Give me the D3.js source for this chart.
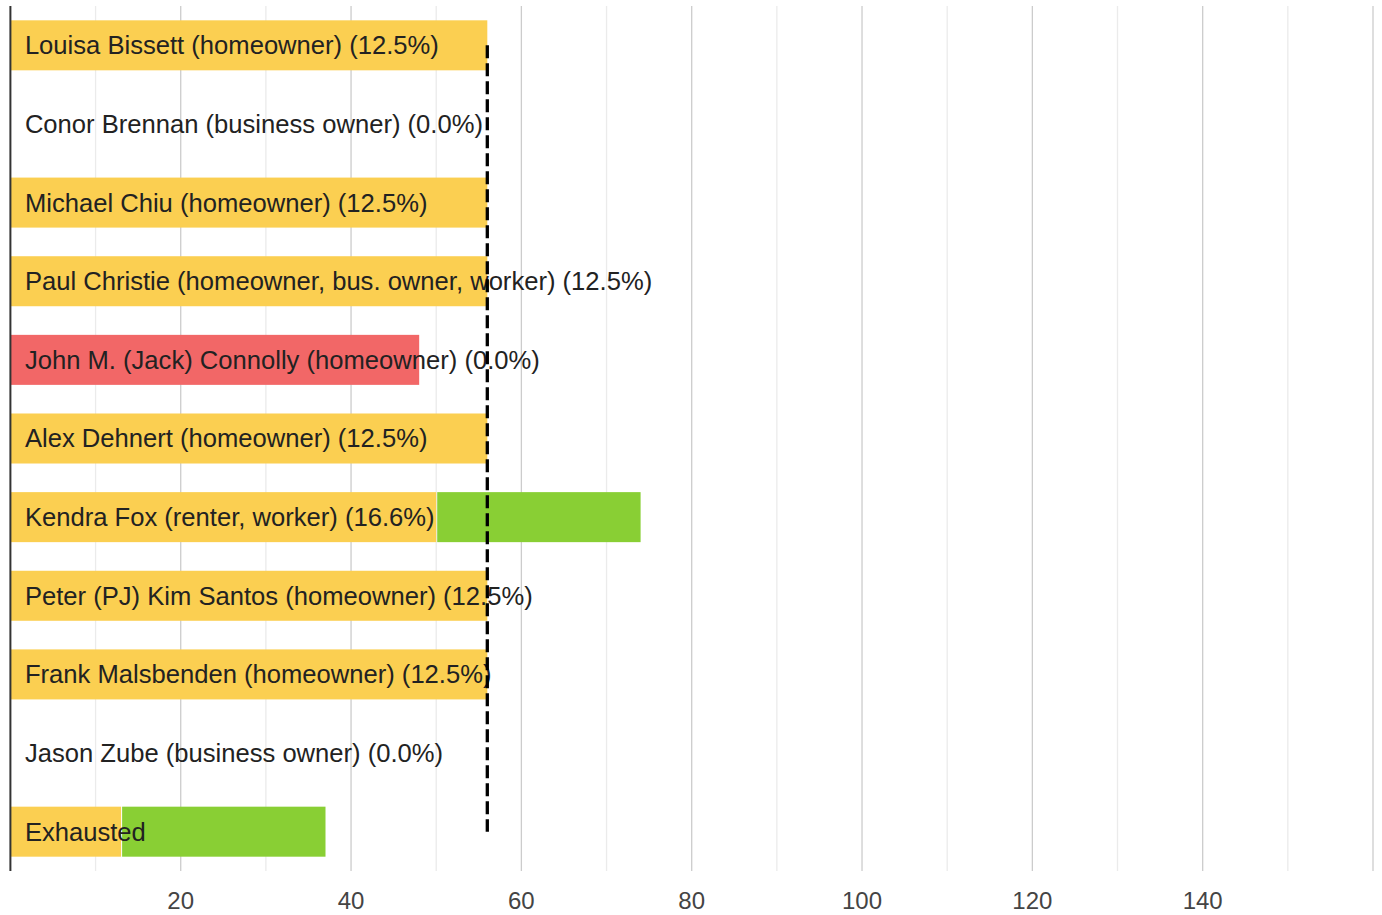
<!DOCTYPE html>
<html>
<head>
<meta charset="utf-8">
<script src="https://cdn.jsdelivr.net/npm/d3@7"></script>
<style>
  html, body { margin: 0; padding: 0; background: #fff; }
  svg { display: block; font-family: "Liberation Sans", Arial, sans-serif; }
</style>
</head>
<body>
<svg id="chart" width="1382" height="915"></svg>
<script>
const categories = [
  "Louisa Bissett (homeowner) (12.5%)",
  "Conor Brennan (business owner) (0.0%)",
  "Michael Chiu (homeowner) (12.5%)",
  "Paul Christie (homeowner, bus. owner, worker) (12.5%)",
  "John M. (Jack) Connolly (homeowner) (0.0%)",
  "Alex Dehnert (homeowner) (12.5%)",
  "Kendra Fox (renter, worker) (16.6%)",
  "Peter (PJ) Kim Santos (homeowner) (12.5%)",
  "Frank Malsbenden (homeowner) (12.5%)",
  "Jason Zube (business owner) (0.0%)",
  "Exhausted"
];
const firstVotes    = [56, 0, 56, 56, 48, 56, 50, 56, 56, 0, 13];
const transferVotes = [0, 0, 0, 0, 0, 0, 24, 0, 0, 0, 24];
const status        = ["elected","none","elected","elected","eliminated","elected","elected","elected","elected","none","elected"];
const threshold = 56;
const majorTicks = [20, 40, 60, 80, 100, 120, 140, 160];
const minorTicks = [10, 30, 50, 70, 90, 110, 130, 150];
const tickLabels = [20, 40, 60, 80, 100, 120, 140];

const colors = { elected: "#fbcf51", eliminated: "#f26767", transfer: "#89cf34", none: "none" };

const svg = d3.select("#chart");
const mLeft = 10.4, mRight = 1373, mTop = 6, mBottom = 871;

const x = d3.scaleLinear().domain([0, 160]).range([mLeft, mRight]);
const y = d3.scaleBand().domain(categories).range([mTop, mBottom]).paddingInner(0.364).paddingOuter(0.182);

// gridlines
svg.append("g").selectAll("line").data(minorTicks).join("line")
  .attr("x1", d => x(d)).attr("x2", d => x(d)).attr("y1", mTop).attr("y2", mBottom)
  .attr("stroke", "#ebebeb").attr("stroke-width", 1.3);
svg.append("g").selectAll("line").data(majorTicks).join("line")
  .attr("x1", d => x(d)).attr("x2", d => x(d)).attr("y1", mTop).attr("y2", mBottom)
  .attr("stroke", "#cccccc").attr("stroke-width", 1.3);

// bars
const rows = categories.map((c, i) => ({ c, a: firstVotes[i], b: transferVotes[i], s: status[i] }));
const g = svg.append("g");
g.selectAll("rect.first").data(rows.filter(d => d.a > 0)).join("rect")
  .attr("class", "first")
  .attr("x", x(0)).attr("y", d => y(d.c)).attr("height", y.bandwidth())
  .attr("width", d => x(d.a) - x(0))
  .attr("fill", d => colors[d.s]);
g.selectAll("rect.transfer").data(rows.filter(d => d.b > 0)).join("rect")
  .attr("class", "transfer")
  .attr("x", d => x(d.a) + 1).attr("y", d => y(d.c)).attr("height", y.bandwidth())
  .attr("width", d => x(d.a + d.b) - x(d.a) - 1)
  .attr("fill", colors.transfer);

// left axis line
svg.append("line").attr("x1", mLeft).attr("x2", mLeft).attr("y1", mTop).attr("y2", mBottom)
  .attr("stroke", "#333").attr("stroke-width", 2);

// bar labels
svg.append("g").selectAll("text").data(categories).join("text")
  .attr("x", x(0) + 14.5).attr("y", d => y(d) + y.bandwidth() / 2)
  .attr("dy", "0.35em")
  .attr("font-size", 25.6).attr("fill", "#222")
  .text(d => d);

// threshold dashed line
svg.append("line")
  .attr("x1", x(threshold)).attr("x2", x(threshold))
  .attr("y1", y(categories[0]) + y.bandwidth() / 2)
  .attr("y2", y(categories[categories.length - 1]) + y.bandwidth() / 2)
  .attr("stroke", "#000").attr("stroke-width", 3.3).attr("stroke-dasharray", "13,5");

// x tick labels
svg.append("g").selectAll("text").data(tickLabels).join("text")
  .attr("x", d => x(d)).attr("y", 909)
  .attr("text-anchor", "middle")
  .attr("font-size", 24).attr("fill", "#444")
  .text(d => d);
</script>
</body>
</html>
